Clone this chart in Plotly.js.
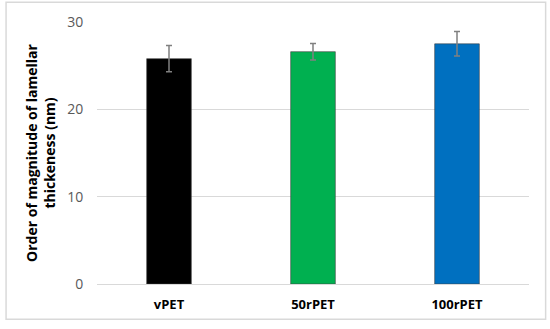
<!DOCTYPE html>
<html>
<head>
<meta charset="utf-8">
<script src="https://cdn.plot.ly/plotly-3.0.1.min.js"></script>
<style>
  html, body { margin: 0; padding: 0; background: #fff; }
  #chart { width: 550px; height: 329px; }
</style>
</head>
<body>
<div id="chart"></div>
<script>
var samples = ['vPET', '50rPET', '100rPET'];
var thickness = [25.8, 26.6, 27.5];
var thicknessErr = [1.5, 0.95, 1.4];
var barColors = ['#000000', '#00b050', '#0070c0'];
var yTicks = [0, 10, 20, 30];

var trace = {
    x: samples,
    y: thickness,
    type: 'bar',
    marker: { color: barColors, line: { color: '#404040', width: 0.6 } },
    error_y: {
        type: 'data',
        array: thicknessErr,
        visible: true,
        color: '#808080',
        thickness: 1.5,
        width: 3
    },
    hoverinfo: 'none'
};

var layout = {
    width: 550,
    height: 329,
    margin: { l: 97, r: 21, t: 22, b: 45 },
    paper_bgcolor: '#ffffff',
    plot_bgcolor: '#ffffff',
    showlegend: false,
    bargap: 0.69,
    font: { family: 'Open Sans, Liberation Sans, sans-serif', color: '#595959' },
    xaxis: {
        type: 'category',
        showgrid: false,
        showline: false,
        zeroline: false,
        ticks: 'outside',
        ticklen: 8,
        tickcolor: 'rgba(0,0,0,0)',
        tickfont: { size: 13, color: '#000000', weight: 'bold' }
    },
    yaxis: {
        range: [0, 30],
        tickvals: yTicks,
        showgrid: true,
        gridcolor: '#d9d9d9',
        gridwidth: 1,
        zeroline: true,
        zerolinecolor: '#d9d9d9',
        zerolinewidth: 1,
        showline: false,
        ticks: 'outside',
        ticklen: 10,
        tickcolor: 'rgba(0,0,0,0)',
        tickfont: { size: 14, color: '#595959' },
        title: {
            text: 'Order of magnitude of lamellar<br>thickeness (nm)',
            font: { size: 14, color: '#000000', weight: 'bold' },
            standoff: 8
        }
    },
    shapes: [{
        type: 'rect',
        xref: 'paper', yref: 'paper',
        x0: -0.2105, x1: 1.0385,
        y0: -0.135, y1: 1.075,
        line: { color: '#d9d9d9', width: 1.5 }
    }]
};

var config = { staticPlot: true, responsive: false };

Plotly.newPlot('chart', [trace], layout, config);
</script>
</body>
</html>
